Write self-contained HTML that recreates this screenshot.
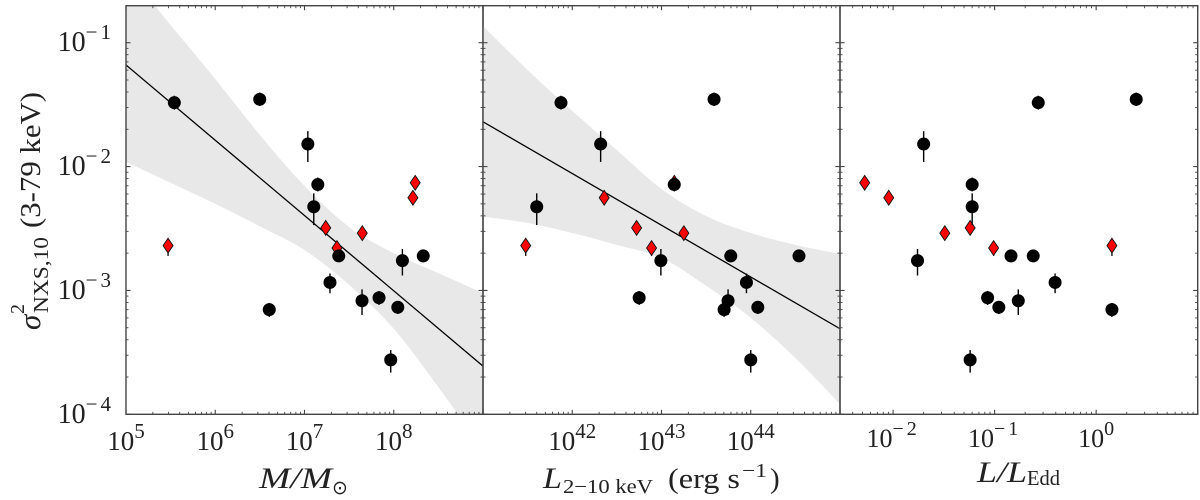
<!DOCTYPE html>
<html>
<head>
<meta charset="utf-8">
<style>
html,body{margin:0;padding:0;background:#fff;}
svg{display:block;font-family:"Liberation Serif","DejaVu Serif",serif;fill:#222;}
</style>
</head>
<body>
<svg id="chart" width="1200" height="500" viewBox="0 0 1200 500" xmlns="http://www.w3.org/2000/svg">
  <defs>
    <clipPath id="clip-0"><rect x="126" y="5.7" width="357" height="408.6"/></clipPath>
    <clipPath id="clip-1"><rect x="483" y="5.7" width="357" height="408.6"/></clipPath>
    <clipPath id="clip-2"><rect x="840" y="5.7" width="357.7" height="408.6"/></clipPath>
  </defs>
  <g id="panels"></g>

  <g transform="translate(40,330) rotate(-90)">
    <text x="0" y="0" font-size="31" font-style="italic">σ</text>
    <text x="16" y="-16" font-size="20">2</text>
    <text x="17" y="8" font-size="21" textLength="76" lengthAdjust="spacingAndGlyphs">NXS,10</text>
    <text x="102" y="0" font-size="29" textLength="136" lengthAdjust="spacingAndGlyphs">(3-79 keV)</text>
  </g>

  <g>
    <text x="259" y="488" font-size="30" font-style="italic" textLength="73" lengthAdjust="spacingAndGlyphs">M/M</text>
    <text x="332" y="494" font-size="19" style="font-family:'DejaVu Sans',sans-serif">⊙</text>
  </g>

  <g>
    <text x="543" y="488" font-size="30" font-style="italic" textLength="19" lengthAdjust="spacingAndGlyphs">L</text>
    <text x="563" y="493" font-size="20" textLength="90" lengthAdjust="spacingAndGlyphs">2−10 keV</text>
    <text x="668" y="488" font-size="29" textLength="72" lengthAdjust="spacingAndGlyphs">(erg s</text>
    <text x="742" y="477" font-size="20" textLength="25" lengthAdjust="spacingAndGlyphs">−1</text>
    <text x="770" y="488" font-size="29">)</text>
  </g>

  <g>
    <text x="977" y="482" font-size="30" font-style="italic" textLength="50" lengthAdjust="spacingAndGlyphs">L/L</text>
    <text x="1027" y="485" font-size="21" textLength="33" lengthAdjust="spacingAndGlyphs">Edd</text>
  </g>
</svg>

<script>
// Shared y values (excess variance) -- black circles
const blackVar      = [0.0328, 0.0349, 0.0152, 0.00716, 0.00474, 0.0019, 0.0019, 0.00174, 0.00116, 0.000873, 0.000826, 0.000731, 0.0007, 0.000275];
const blackVarUpper = [0.0373, 0.0396, 0.0193, 0.00816, 0.00608, 0.00212, 0.00212, 0.00216, 0.00137, 0.00099, 0.00102, 0.000822, 0.000793, 0.00033];
const blackVarLower = [0.0288, 0.0308, 0.0109, 0.0063, 0.00337, 0.0017, 0.0017, 0.00132, 0.00095, 0.000764, 0.000634, 0.000646, 0.000611, 0.000217];

// Shared y values -- red diamonds
const redVar      = [0.0074, 0.0056, 0.0029, 0.0032, 0.0022, 0.0023];
const redVarUpper = [0.0081, 0.0061, 0.0032, 0.0035, 0.0025, 0.0026];
const redVarLower = [0.0067, 0.0051, 0.0026, 0.0029, 0.0019, 0.0019];

// x values per panel
const blackMass = [3.48e5, 3.15e6, 1.09e7, 1.41e7, 1.27e7, 2.14e8, 2.42e7, 1.25e8, 1.93e7, 6.84e7, 4.41e7, 1.11e8, 4.03e6, 9.25e7];
const redMass   = [1.74e8, 1.64e8, 4.44e7, 1.73e7, 2.31e7, 2.96e5];
const blackLum  = [7.48e41, 3.88e43, 2.08e42, 1.39e43, 4.0e41, 3.47e44, 5.97e43, 9.84e42, 8.95e43, 5.62e42, 5.57e43, 1.2e44, 5.03e43, 1.0e44];
const redLum    = [1.39e43, 2.28e42, 1.78e43, 5.26e42, 7.74e42, 3.01e41];
const blackEdd  = [0.269, 2.48, 0.02, 0.0601, 0.0601, 0.145, 0.24, 0.0174, 0.394, 0.0853, 0.171, 0.11, 1.43, 0.0574];
const redEdd    = [0.00525, 0.00906, 0.0323, 0.0574, 0.0977, 1.43];

// Fit lines
const fitMassX = [1e5, 1e9];
const fitMassY = [0.0661, 0.000245];
const fitLumX  = [1e41, 1e45];
const fitLumY  = [0.023, 0.000491];

// Confidence bands
const bandMassX     = [1e5, 3.16e5, 1e6, 3.16e6, 1e7, 3.16e7, 1e8, 3.16e8, 1e9];
const bandMassUpper = [0.386, 0.139, 0.0509, 0.018, 0.00697, 0.00325, 0.002, 0.00138, 0.000953];
const bandMassLower = [0.0109, 0.0074, 0.0050, 0.0033, 0.00212, 0.00111, 0.000489, 0.000166, 0.0000515];
const bandLumX      = [1e41, 3.16e41, 1e42, 3.16e42, 1e43, 3.16e43, 1e44, 3.16e44, 1e45];
const bandLumUpper  = [0.1365, 0.0602, 0.0281, 0.0136, 0.00659, 0.00399, 0.00291, 0.00233, 0.00197];
const bandLumLower  = [0.00395, 0.0035, 0.00291, 0.00233, 0.00183, 0.00109, 0.0006, 0.000285, 0.000121];

// Axis ticks (powers of ten that get labels)
const yTickExponents   = [-1, -2, -3, -4];
const massTickExponents = [5, 6, 7, 8];
const lumTickExponents  = [42, 43, 44];
const eddTickExponents  = [-2, -1, 0];

const NS = 'http://www.w3.org/2000/svg';
const SPINE = '#444';
const plotTop = 5.7, plotBottom = 414.3;
const yLogAt01 = -1, yPxPerDecade = 123.87, yPxAt01 = 42.7;

function yScale(v) {
  return yPxAt01 - (Math.log10(v) - yLogAt01) * yPxPerDecade;
}
function makeXScale(logMin, logMax, pxMin, pxMax) {
  return function (v) {
    return pxMin + (Math.log10(v) - logMin) / (logMax - logMin) * (pxMax - pxMin);
  };
}
function add(parent, tag, attrs) {
  const el = document.createElementNS(NS, tag);
  for (const k in attrs) el.setAttribute(k, attrs[k]);
  parent.appendChild(el);
  return el;
}
// Smooth curve segments through the given [x, y] pixel pairs
function smoothSegments(pts) {
  let d = '';
  for (let i = 0; i < pts.length - 1; i++) {
    const p0 = pts[Math.max(i - 1, 0)], p1 = pts[i], p2 = pts[i + 1], p3 = pts[Math.min(i + 2, pts.length - 1)];
    const c1x = p1[0] + (p2[0] - p0[0]) / 6, c1y = p1[1] + (p2[1] - p0[1]) / 6;
    const c2x = p2[0] - (p3[0] - p1[0]) / 6, c2y = p2[1] - (p3[1] - p1[1]) / 6;
    d += ' C' + c1x.toFixed(1) + ' ' + c1y.toFixed(1) + ' ' + c2x.toFixed(1) + ' ' + c2y.toFixed(1) + ' ' + p2[0].toFixed(1) + ' ' + p2[1].toFixed(1);
  }
  return d;
}
function tickLabel(parent, x, y, exp, anchor, size, expSize, baseLift, name) {
  const t = add(parent, 'text', { x: x, y: y, 'font-size': size, 'text-anchor': anchor });
  
  
  const base = document.createElementNS(NS, 'tspan');
  base.textContent = '10';
  t.appendChild(base);
  const sup = document.createElementNS(NS, 'tspan');
  sup.setAttribute('dy', -baseLift);
  sup.setAttribute('font-size', expSize);
  if (exp < 0) sup.setAttribute('letter-spacing', '3');
  sup.textContent = String(exp).replace('-', '−');
  t.appendChild(sup);
}

const panelConfigs = [
  { key: 'mass', logMin: 5, logMax: 9, pxMin: 126, pxMax: 483, clip: 'clip-0',
    blackX: blackMass, redX: redMass, tickExps: massTickExponents,
    fitX: fitMassX, fitY: fitMassY, bandX: bandMassX, bandU: bandMassUpper, bandL: bandMassLower,
    labelY: 450, size: 27, expSize: 21, lift: 12 },
  { key: 'luminosity', logMin: 41, logMax: 45, pxMin: 483, pxMax: 840, clip: 'clip-1',
    blackX: blackLum, redX: redLum, tickExps: lumTickExponents,
    fitX: fitLumX, fitY: fitLumY, bandX: bandLumX, bandU: bandLumUpper, bandL: bandLumLower,
    labelY: 450, size: 27, expSize: 21, lift: 12 },
  { key: 'eddington', logMin: Math.log10(3e-3), logMax: 1, pxMin: 840, pxMax: 1197.7, clip: 'clip-2',
    blackX: blackEdd, redX: redEdd, tickExps: eddTickExponents,
    fitX: null, labelY: 447, size: 26, expSize: 20, lift: 12 }
];

const root = document.getElementById('panels');

panelConfigs.forEach(function (p, idx) {
  const x = makeXScale(p.logMin, p.logMax, p.pxMin, p.pxMax);
  const g = add(root, 'g', {});
  
  

  const plot = add(g, 'g', { 'clip-path': 'url(#' + p.clip + ')' });
  
  

  if (p.fitX) {
    const up = p.bandX.map(function (v, i) { return [x(v), yScale(p.bandU[i])]; });
    const lo = p.bandX.map(function (v, i) { return [x(v), yScale(p.bandL[i])]; }).reverse();
    const pathD = 'M' + up[0][0].toFixed(1) + ' ' + up[0][1].toFixed(1) + smoothSegments(up) +
      ' L' + lo[0][0].toFixed(1) + ' ' + lo[0][1].toFixed(1) + smoothSegments(lo) + ' Z';
    const band = add(plot, 'path', { d: pathD, fill: '#e8e8e8', stroke: 'none' });
    
    

    const fit = add(plot, 'line', {
      x1: x(p.fitX[0]), y1: yScale(p.fitY[0]), x2: x(p.fitX[1]), y2: yScale(p.fitY[1]),
      stroke: '#000', 'stroke-width': 1.3
    });
    
    
  }

  // red diamonds
  p.redX.forEach(function (v, i) {
    const px = x(v), py = yScale(redVar[i]);
    const err = add(plot, 'line', { x1: px, x2: px, y1: yScale(redVarUpper[i]), y2: yScale(redVarLower[i]), stroke: '#000', 'stroke-width': 1.3 });
    
    
    const d = add(plot, 'polygon', {
      points: [px, py - 7.4, px + 5, py, px, py + 7.4, px - 5, py].join(','),
      fill: '#ff0000', stroke: '#111', 'stroke-width': 0.9
    });
    
    
  });

  // black circles
  p.blackX.forEach(function (v, i) {
    const px = x(v), py = yScale(blackVar[i]);
    const err = add(plot, 'line', { x1: px, x2: px, y1: yScale(blackVarUpper[i]), y2: yScale(blackVarLower[i]), stroke: '#000', 'stroke-width': 1.4 });
    
    
    const c = add(plot, 'circle', { cx: px, cy: py, r: 6.5, fill: '#000' });
    
    
  });

  // spines
  const frame = add(g, 'rect', {
    x: p.pxMin, y: plotTop, width: p.pxMax - p.pxMin, height: plotBottom - plotTop,
    fill: 'none', stroke: SPINE, 'stroke-width': 1.4
  });
  
  

  // x ticks (bottom and top)
  const ticks = add(g, 'g', { stroke: SPINE });
  
  
  for (let d = Math.floor(p.logMin); d < Math.ceil(p.logMax) + 1; d++) {
    for (let m = 1; m < 10; m++) {
      const lg = d + Math.log10(m);
      if (lg < p.logMin - 1e-6 || lg > p.logMax + 1e-6) continue;
      const px = x(Math.pow(10, lg));
      const len = m === 1 ? 4.5 : 2.5;
      const w = m === 1 ? 1.1 : 0.9;
      add(ticks, 'line', { x1: px, x2: px, y1: plotBottom, y2: plotBottom - len, 'stroke-width': w });
      add(ticks, 'line', { x1: px, x2: px, y1: plotTop, y2: plotTop + len, 'stroke-width': w });
    }
  }
  // y ticks (left and right)
  for (let d = -4; d < 0; d++) {
    for (let m = 1; m < 10; m++) {
      const val = m * Math.pow(10, d);
      if (val > 0.2001) continue;
      const py = yScale(val);
      const len = m === 1 ? 4.5 : 2.5;
      const w = m === 1 ? 1.1 : 0.9;
      add(ticks, 'line', { x1: p.pxMin, x2: p.pxMin + len, y1: py, y2: py, 'stroke-width': w });
      add(ticks, 'line', { x1: p.pxMax, x2: p.pxMax - len, y1: py, y2: py, 'stroke-width': w });
    }
  }

  // tick labels
  p.tickExps.forEach(function (e) {
    tickLabel(g, x(Math.pow(10, e)), p.labelY, e, 'middle', p.size, p.expSize, p.lift, 'x-tick-label-' + p.key);
  });
  if (idx === 0) {
    yTickExponents.forEach(function (e) {
      tickLabel(g, 114, yScale(Math.pow(10, e)) + 8.5, e, 'end', 28, 21, 12, 'y-tick-label');
    });
  }
});
</script>
</body>
</html>
